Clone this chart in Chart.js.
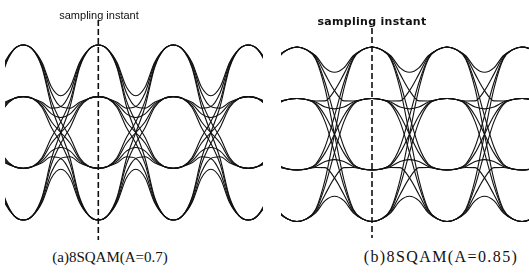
<!DOCTYPE html>
<html>
<head>
<meta charset="utf-8">
<script src="https://cdn.jsdelivr.net/npm/chart.js@4.4.1/dist/chart.umd.min.js"></script>
<style>
  body { margin: 0; background: #fff; }
  #wrap { position: relative; width: 529px; height: 275px; overflow: hidden; background: #fff; }
  canvas { position: absolute; }
  .lbl { position: absolute; white-space: nowrap; color: #111; transform: translate(-50%, -50%); }
</style>
</head>
<body>
<div id="wrap">
  <canvas id="eyeA" width="258" height="220" style="left:5px;top:20px"></canvas>
  <canvas id="eyeB" width="248" height="210" style="left:281px;top:28px"></canvas>
  <div class="lbl" style="left:99px;top:15px;font:11px 'Liberation Sans', sans-serif;">sampling instant</div>
  <div class="lbl" style="left:372px;top:21px;font:bold 11px 'DejaVu Sans', sans-serif;letter-spacing:0.3px;">sampling instant</div>
  <div class="lbl" style="left:110px;top:257px;font:15px 'Liberation Serif', serif;">(a)8SQAM(A=0.7)</div>
  <div class="lbl" style="left:441px;top:257px;font:16px 'Liberation Serif', serif;letter-spacing:1.4px;">(b)8SQAM(A=0.85)</div>
</div>
<script>
// symbol levels at the sampling instant (normalised to outer level)
const levelsA = [1, 0.41, -0.41, -1];
const levelsB = [1, 0.41, -0.41, -1];
// pulse weight of a symbol over one symbol period, read at 1/8 steps
const pulseA = [1, 0.95, 0.77, 0.41, 0.21, 0.11, 0.03, 0, 0];
const pulseB = [1, 0.97, 0.88, 0.64, 0.355, 0.12, 0.02, 0, 0];
// symbol periods shown (start index of each period)
const periods = [-1, 0, 1, 2, 3];
const samplingInstant = 1;

// one trace per level pair; alternating l1,l2,l1,... (constant when l1 == l2)
const buildTraces = (levels, pulse) => {
  const steps = pulse.length - 1;
  const traces = [];
  for (let i = 0; i < levels.length; i++) {
    for (let j = 0; j < levels.length; j++) {
      if (j < i) continue;
      const starts = i === j ? [[i, j]] : [[i, j], [j, i]];
      starts.forEach(([p, q]) => {
        const pts = [];
        periods.forEach((k, n) => {
          const a = levels[n % 2 === 0 ? p : q];
          const b = levels[n % 2 === 0 ? q : p];
          const last = n === periods.length - 1;
          for (let m = 0; m <= (last ? steps : steps - 1); m++) {
            pts.push({ x: k + m / steps, y: a * pulse[m] + b * pulse[steps - m] });
          }
        });
        traces.push(pts);
      });
    }
  }
  return traces;
};

const makeChart = (id, levels, pulse, xr, yr, lw) => {
  const datasets = buildTraces(levels, pulse).map(pts => ({
    data: pts,
    borderColor: '#111',
    borderWidth: lw,
    cubicInterpolationMode: 'monotone',
    pointRadius: 0,
  }));
  // dashed sampling instant marker
  datasets.push({
    data: [{ x: samplingInstant, y: yr[1] }, { x: samplingInstant, y: yr[0] }],
    borderColor: '#111',
    borderWidth: 1.6,
    borderDash: [6, 3],
    pointRadius: 0,
  });
  return new Chart(document.getElementById(id), {
    type: 'line',
    data: { datasets },
    options: {
      responsive: false,
      animation: false,
      devicePixelRatio: 1,
      layout: { padding: 0 },
      plugins: { legend: { display: false }, tooltip: { enabled: false } },
      scales: {
        x: { type: 'linear', min: xr[0], max: xr[1], display: false },
        y: { type: 'linear', min: yr[0], max: yr[1], display: false },
      },
    },
  });
};

makeChart('eyeA', levelsA, pulseA, [-0.244, 3.196], [-1.229, 1.286], 1.1);
makeChart('eyeB', levelsB, pulseB, [-0.213, 3.093], [-1.189, 1.218], 1.1);
</script>
</body>
</html>
